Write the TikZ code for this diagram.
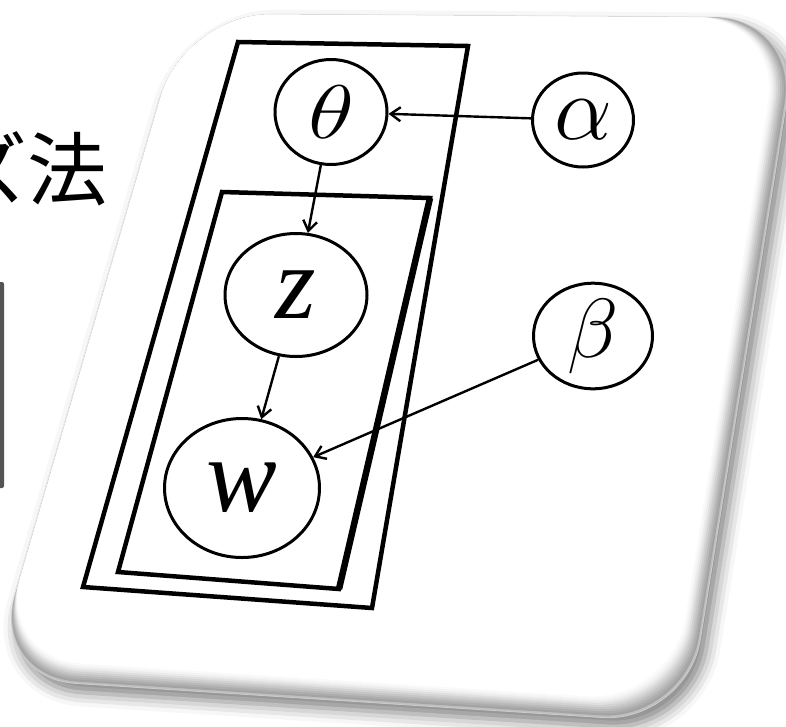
\RequirePackage{fix-cm}
\documentclass[tikz,border=0pt]{standalone}
\usepackage{fontspec}
\usepackage{graphicx}
\newfontfamily\jpfont{Noto Sans CJK JP}
\newfontfamily\timesit{Liberation Serif Italic}
\usetikzlibrary{arrows.meta,positioning,shapes.geometric,shadows.blur}
\newcommand{\vfs}[1]{\fontsize{#1}{#1}\selectfont}
\tikzset{
	cardshape/.style={insert path={(185,14) -- (800,18) -- (687,723) -- (-9,678) -- cycle}},
	plate/.style={draw=black,line width=4.5pt,line join=miter},
	var/.style={draw=black,ellipse,line width=3pt,inner sep=0pt}
}

\begin{document}
\begin{tikzpicture}[x=1pt,y=-1pt,->,>={Straight Barb[length=10pt,width=14pt]},line width=2.4pt]
	\useasboundingbox (0,0) rectangle (786,726);

	% the tilted card
	\path[rounded corners=85pt,draw=gray!40,line width=0.8pt,fill=gray!50,
		blur shadow={shadow xshift=6pt,shadow yshift=-9pt,shadow blur radius=14pt,shadow opacity=50},cardshape];
	\foreach \k/\c in {1/72,2/64,3/55,4/45,5/35,6/25,7/16,8/9,9/4,10/0}
		\fill[gray!\c,rounded corners=85pt,scale around={1-0.003*\k:(185,14)},cardshape];

	% left of the card
	\fill[black!67,rounded corners=2pt] (-6,282) rectangle (4,488);
	\node[anchor=base east,inner sep=0pt,font={\jpfont\vfs{80}}] (title) at (109,199) {ズ法};

	% plates
	\draw[plate] (238,42) -- (468,46) -- (372,608) -- (83,587) -- cycle;
	\draw[plate] (222,192) -- (430,198) -- (339,589) -- (118,572) -- cycle;
	\draw[plate,-,line width=6.5pt] (430,198) -- (339,589);

	\node[var,minimum width=112pt,minimum height=105pt]	(theta)	at (331,112)								{\vfs{76}\scalebox{1.25}[1]{$\theta$}};
	\node[var,minimum width=101pt,minimum height=94pt]	(alpha)	[right of=theta,node distance=252pt,yshift=-8pt]	{\vfs{92}$\alpha$};
	\node[var,minimum width=142pt,minimum height=123pt]	(z)		[below of=theta,node distance=183pt,xshift=-35pt]	{\timesit\vfs{104}z};
	\node[var,minimum width=155pt,minimum height=139pt]	(w)		[below of=z,node distance=193pt,xshift=-54pt]		{\timesit\vfs{106}w};
	\node[var,minimum width=119pt,minimum height=102pt]	(beta)	[right of=z,node distance=297pt,yshift=-41pt]		{\vfs{84}$\beta$};

	\path
		(alpha)	edge	(theta)
		(theta)	edge	(z)
		(z)		edge	(w)
		(beta)	edge	(w)
	;
\end{tikzpicture}
\end{document}
